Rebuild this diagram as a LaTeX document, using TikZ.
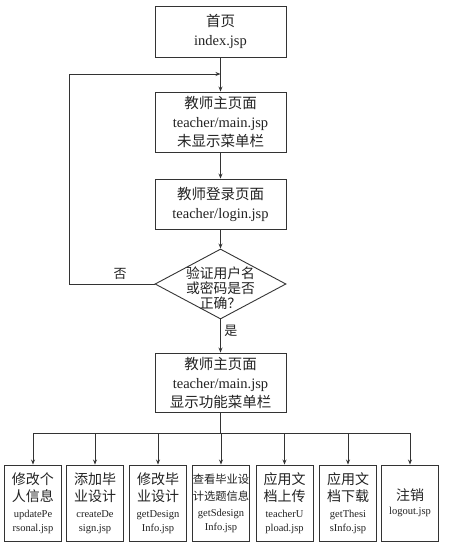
\documentclass[tikz,border=0pt]{standalone}
\usepackage{fontspec}
\setmainfont{Liberation Serif}
\newfontfamily\cjk{Noto Sans CJK SC}
\usetikzlibrary{shapes.geometric,arrows.meta}
\definecolor{ln}{HTML}{333333}
\definecolor{tx}{HTML}{222222}
\newcommand{\cb}[1]{{\cjk\fontsize{14}{17}\selectfont #1}}
\newcommand{\cs}[1]{{\cjk\fontsize{11.3}{17}\selectfont #1}}
\begin{document}
\begin{tikzpicture}[x=1pt,y=-1pt,
  box/.style={draw=ln,line width=0.9pt,minimum width=131pt,inner sep=0pt,align=center,text=tx,
    font=\fontsize{14.5}{19}\selectfont},
  sbox/.style={draw=ln,line width=0.9pt,minimum width=57pt,minimum height=76pt,inner sep=0pt,align=center,text=tx,
    font=\fontsize{10.5}{14}\selectfont},
  arr/.style={draw=ln,line width=0.9pt,-{Stealth[length=5pt,width=4pt]}},
  ln/.style={draw=ln,line width=0.9pt},
  lbl/.style={text=tx,font=\cjk\fontsize{13}{15}\selectfont}]
\useasboundingbox (0,0) rectangle (450,552);
\node[box,minimum height=51pt] (top) at (220.5,31.5) {{\cjk 首页}\\index.jsp};
\node[box,minimum height=60pt] (m1) at (220.5,122) {{\cjk 教师主页面}\\teacher/main.jsp\\{\cjk 未显示菜单栏}};
\node[box,minimum height=50pt] (login) at (220.5,204) {{\cjk 教师登录页面}\\teacher/login.jsp};
\node[draw=ln,line width=0.9pt,shape=diamond,minimum width=131pt,minimum height=70pt,inner sep=0pt] (dec) at (220.5,284) {};
\node[align=center,text=tx,font=\cjk\fontsize{13.8}{15}\selectfont,inner sep=0pt] (dect) at (220.5,288) {验证用户名\\或密码是否\\正确？};
\node[box,minimum height=59pt] (m2) at (220.5,382.5) {{\cjk 教师主页面}\\teacher/main.jsp\\{\cjk 显示功能菜单栏}};

\node[sbox] (b1) at (33,503) {\cb{修改个}\\[3pt]\cb{人信息}\\[2pt]updatePe\\rsonal.jsp};
\node[sbox] (b2) at (95,503) {\cb{添加毕}\\[3pt]\cb{业设计}\\[2pt]createDe\\sign.jsp};
\node[sbox] (b3) at (158,503) {\cb{修改毕}\\[3pt]\cb{业设计}\\[2pt]getDesign\\Info.jsp};
\node[sbox] (b4) at (221,503) {\cs{查看毕业设}\\[3pt]\cs{计选题信息}\\[2pt]getSdesign\\Info.jsp};
\node[sbox] (b5) at (284.5,503) {\cb{应用文}\\[3pt]\cb{档上传}\\[2pt]teacherU\\pload.jsp};
\node[sbox] (b6) at (348,503) {\cb{应用文}\\[3pt]\cb{档下载}\\[2pt]getThesi\\sInfo.jsp};
\node[sbox] (b7) at (410,503) {\cb{注销}\\logout.jsp};

\coordinate (join) at (220.5,74);
\coordinate (lc) at (69,74);
\coordinate (bus) at (220.5,433);

\draw[arr] (top) -- (m1);
\draw[arr] (m1) -- (login);
\draw[arr] (login) -- (dec);
\draw[arr] (dec) -- node[lbl,right,pos=0.35] (yes) {是} (m2);
\draw[arr] (dec.west) -| (lc) -- (join);
\node[lbl] (no) at (120,274) {否};
\draw[ln] (m2) -- (bus);
\draw[ln] (b1.north |- bus) -- (b7.north |- bus);
\foreach \b in {b1,b2,b3,b4,b5,b6,b7} \draw[arr] (\b.north |- bus) -- (\b.north);
\end{tikzpicture}
\end{document}
